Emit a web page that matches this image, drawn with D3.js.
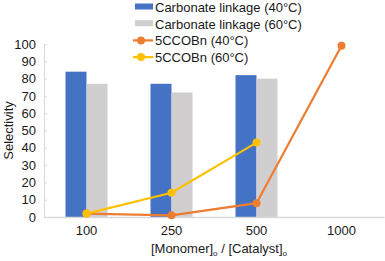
<!DOCTYPE html>
<html>
<head>
<meta charset="utf-8">
<script src="https://cdn.jsdelivr.net/npm/d3@7"></script>
<style>
  body { margin: 0; background: #fff; }
  text { font-family: "Liberation Sans", Arial, sans-serif; fill: #1a1a1a; }
</style>
</head>
<body>
<div class="chart"></div>
<script>
var categories = ["100", "250", "500", "1000"];
var linkage40 = [84, 77, 82, null];
var linkage60 = [77, 72, 80, null];
var ccobn40 = [2, 1, 8, 99];
var ccobn60 = [2, 14, 43, null];
var yTicks = [0, 10, 20, 30, 40, 50, 60, 70, 80, 90, 100];

var svgWidth = 385;
var svgHeight = 261;

var margin = { top: 44, right: 1, bottom: 44, left: 44 };

var chartWidth = svgWidth - margin.left - margin.right;
var chartHeight = svgHeight - margin.top - margin.bottom;

var svg = d3.select(".chart")
  .append("svg")
  .attr("width", svgWidth)
  .attr("height", svgHeight);

var chartGroup = svg.append("g")
  .attr("transform", `translate(${margin.left}, ${margin.top})`);

var x = d3.scaleBand()
  .domain(categories)
  .range([0, chartWidth]);

var y = d3.scaleLinear()
  .domain([0, 100])
  .range([chartHeight, 0]);

var barW = 21;

// bars
var barSeries = [
  { values: linkage40, color: "#4472C4", offset: -barW },
  { values: linkage60, color: "#D0CECE", offset: 0 }
];

barSeries.forEach(function(s) {
  chartGroup.selectAll(null)
    .data(categories.map((c, i) => ({ c: c, v: s.values[i] })).filter(d => d.v !== null))
    .enter()
    .append("rect")
    .attr("x", d => x(d.c) + x.bandwidth() / 2 + s.offset)
    .attr("y", d => y(d.v))
    .attr("width", barW)
    .attr("height", d => chartHeight - y(d.v))
    .attr("fill", s.color);
});

// axes
var leftAxis = d3.axisLeft(y).tickValues(yTicks).tickSize(-3).tickPadding(8);
var yAxis = chartGroup.append("g").call(leftAxis);
yAxis.select(".domain").attr("stroke", "#d9d9d9");
yAxis.selectAll(".tick line").attr("stroke", "#d9d9d9");
yAxis.selectAll("text").attr("font-size", 13).style("fill", "#1a1a1a");

var bottomAxis = d3.axisBottom(x).tickSize(0).tickPadding(9);
var xAxis = chartGroup.append("g")
  .attr("transform", `translate(0, ${chartHeight})`)
  .call(bottomAxis);
xAxis.select(".domain").attr("stroke", "#d9d9d9").attr("stroke-width", 1.5);
xAxis.selectAll("text").attr("font-size", 13).style("fill", "#1a1a1a");

// lines
var lineSeries = [
  { values: ccobn40, color: "#ED7D31" },
  { values: ccobn60, color: "#FFC000" }
];

var line = d3.line()
  .defined(d => d.v !== null)
  .x(d => x(d.c) + x.bandwidth() / 2)
  .y(d => y(d.v));

lineSeries.forEach(function(s) {
  var pts = categories.map((c, i) => ({ c: c, v: s.values[i] }));
  chartGroup.append("path")
    .datum(pts)
    .attr("d", line)
    .attr("fill", "none")
    .attr("stroke", s.color)
    .attr("stroke-width", 2.25);
  chartGroup.selectAll(null)
    .data(pts.filter(d => d.v !== null))
    .enter()
    .append("circle")
    .attr("cx", d => x(d.c) + x.bandwidth() / 2)
    .attr("cy", d => y(d.v))
    .attr("r", 4)
    .attr("fill", s.color);
});

// axis titles
svg.append("text")
  .attr("transform", `translate(13, ${margin.top + chartHeight / 2}) rotate(-90)`)
  .attr("text-anchor", "middle")
  .attr("font-size", 13)
  .text("Selectivity");

var xTitle = svg.append("text")
  .attr("x", 219)
  .attr("y", 253)
  .attr("text-anchor", "middle")
  .attr("font-size", 13);
xTitle.append("tspan").text("[Monomer]");
xTitle.append("tspan").attr("font-size", 8).attr("dy", 3).text("o");
xTitle.append("tspan").attr("dy", -3).text(" / [Catalyst]");
xTitle.append("tspan").attr("font-size", 8).attr("dy", 3).text("o");

// legend
var legendItems = [
  { label: "Carbonate linkage (40°C)", color: "#4472C4", type: "bar" },
  { label: "Carbonate linkage (60°C)", color: "#D0CECE", type: "bar" },
  { label: "5CCOBn (40°C)", color: "#ED7D31", type: "line" },
  { label: "5CCOBn (60°C)", color: "#FFC000", type: "line" }
];

var legend = svg.append("g").attr("transform", "translate(133, 7)");
legendItems.forEach(function(d, i) {
  var g = legend.append("g").attr("transform", `translate(0, ${i * 16.7})`);
  if (d.type === "bar") {
    g.append("rect").attr("x", 2).attr("y", -3.5).attr("width", 18).attr("height", 6).attr("fill", d.color);
  } else {
    g.append("line").attr("x1", 0).attr("x2", 20).attr("y1", 0).attr("y2", 0)
      .attr("stroke", d.color).attr("stroke-width", 2.25);
    g.append("circle").attr("cx", 8).attr("cy", 0).attr("r", 4).attr("fill", d.color);
  }
  g.append("text").attr("x", 22).attr("y", 5).attr("font-size", 13).text(d.label);
});
</script>
</body>
</html>
